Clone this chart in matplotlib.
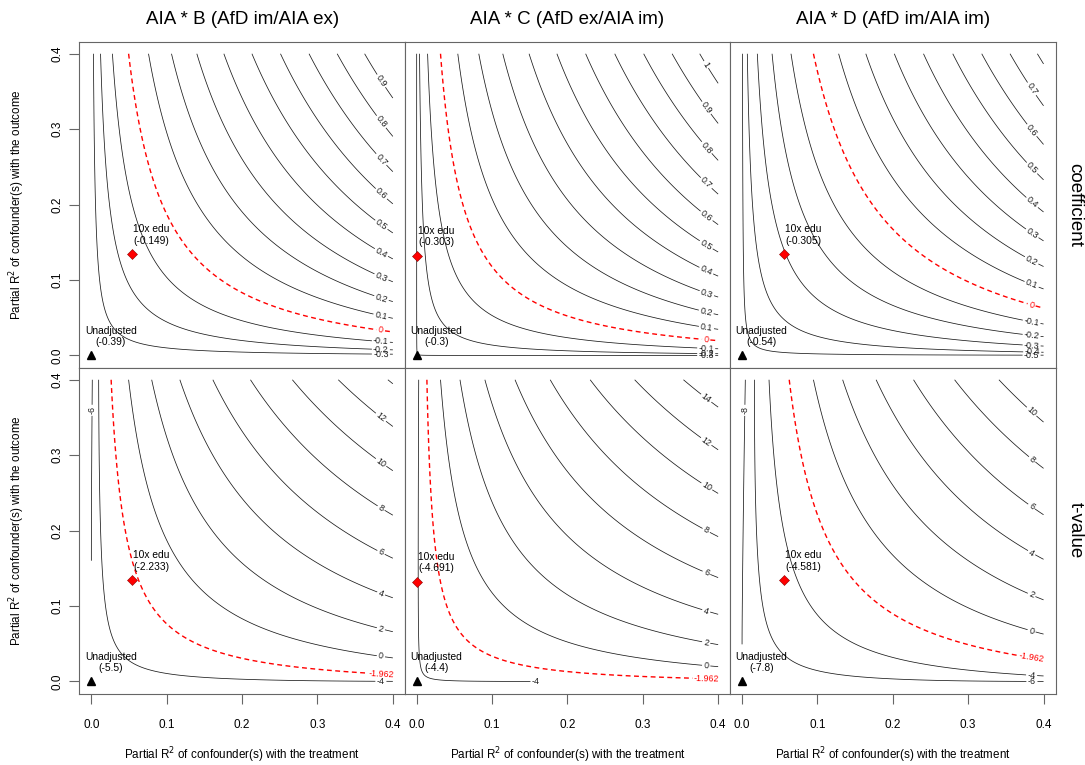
import numpy as np
import matplotlib.pyplot as plt

plt.rcParams['font.family'] = ['Liberation Sans', 'DejaVu Sans']

# models (columns)
models = ['AIA * B (AfD im/AIA ex)', 'AIA * C (AfD ex/AIA im)', 'AIA * D (AfD im/AIA im)']
estimates = [-0.39, -0.304, -0.54]
std_errors = [0.0709, 0.0697, 0.0692]
dofs = [1455, 1455, 1455]

# benchmark "10x edu"
bench_name = '10x edu'
bench_r2dz = [0.0537, 0.0004, 0.0555]
bench_r2yz = [0.1345, 0.132, 0.134]
bench_est_labels = ['-0.149', '-0.303', '-0.305']
bench_t_labels = ['-2.233', '-4.691', '-4.581']
unadj_est_labels = ['-0.39', '-0.3', '-0.54']
unadj_t_labels = ['-5.5', '-4.4', '-7.8']

coef_levels = [
    [-0.3, -0.2, -0.1, 0.1, 0.2, 0.3, 0.4, 0.5, 0.6, 0.7, 0.8, 0.9],
    [-0.3, -0.2, -0.1, 0.1, 0.2, 0.3, 0.4, 0.5, 0.6, 0.7, 0.8, 0.9, 1.0],
    [-0.5, -0.4, -0.3, -0.2, -0.1, 0.1, 0.2, 0.3, 0.4, 0.5, 0.6, 0.7, 0.8],
]
t_levels = [
    [-6, -4, 0, 2, 4, 6, 8, 10, 12, 14],
    [-4, 0, 2, 4, 6, 8, 10, 12, 14],
    [-8, -6, -4, 0, 2, 4, 6, 8, 10],
]
coef_threshold = 0
t_threshold = -1.962

row_names = ['coefficient', 't-value']
ticks = [0.0, 0.1, 0.2, 0.3, 0.4]
lim = 0.4


def fmt(v):
    return f'{v:g}'


def draw_level(ax, X, Y, Z, lev, color, lw, ls):
    cs = ax.contour(X, Y, Z, levels=[lev], colors=color, linewidths=lw, linestyles=ls)
    segs = [s for s in cs.allsegs[0] if len(s) > 1]
    if not segs:
        return
    pts = np.vstack(segs)
    length = sum(np.sum(np.hypot(*np.diff(s, axis=0).T)) for s in segs)
    # very short corner pieces stay unlabelled
    if length < 0.02:
        return
    inside = pts[pts[:, 0] <= 0.385]
    if len(inside) == 0:
        return
    p = inside[np.argmax(inside[:, 0])]
    if p[0] < 0.08:
        # nearly vertical line at the left: label near the top
        p = pts[np.argmin(np.abs(pts[:, 1] - 0.36))]
    ax.clabel(cs, manual=[tuple(p)], inline=True, inline_spacing=2,
              fontsize=6.4, fmt=fmt, colors=color)


fig = plt.figure(figsize=(10.85, 7.65), dpi=100)
W, H = 1085, 765
col_left = [79.3, 404.6, 730.0]
pw = 325.6
row_top = [41.7, 367.7]
ph = 325.8

g = lim * np.linspace(0, 1, 501) ** 2
rd, ry = np.meshgrid(g, g)

for j in range(3):
    est, se, dof = estimates[j], std_errors[j], dofs[j]
    bias = se * np.sqrt(dof) * np.sqrt(ry * rd / (1 - rd))
    adj_est = est + bias
    adj_se = se * np.sqrt((1 - ry) / (1 - rd)) * np.sqrt(dof / (dof - 1))
    adj_t = adj_est / adj_se
    surfaces = [adj_est, adj_t]
    levels = [coef_levels[j], t_levels[j]]
    thresholds = [coef_threshold, t_threshold]
    unadj = [unadj_est_labels[j], unadj_t_labels[j]]
    bench = [bench_est_labels[j], bench_t_labels[j]]

    for i in range(2):
        ax = fig.add_axes([col_left[j] / W, 1 - (row_top[i] + ph) / H, pw / W, ph / H])
        z = surfaces[i]
        for lev in levels[i]:
            draw_level(ax, rd, ry, z, lev, '#1a1a1a', 0.55, 'solid')
        draw_level(ax, rd, ry, z, thresholds[i], 'red', 1.0, [(0, (3.5, 2.5))])

        ax.plot(0, 0, marker='^', color='black', markersize=6, linestyle='none')
        ax.text(0 + 0.026, 0 + 0.025, 'Unadjusted\n(' + unadj[i] + ')',
                ha='center', va='center', fontsize=7.4, linespacing=1.2)
        ax.plot(bench_r2dz[j], bench_r2yz[j], marker='D', color='red',
                markeredgecolor='darkred', markeredgewidth=0.4, markersize=5.5,
                linestyle='none')
        ax.text(bench_r2dz[j] + 0.026, bench_r2yz[j] + 0.0255,
                bench_name + '\n(' + bench[i] + ')',
                ha='center', va='center', fontsize=7.4, linespacing=1.2)

        ax.set_xlim(-0.016, 0.416)
        ax.set_ylim(-0.016, 0.416)
        for s in ax.spines.values():
            s.set_color('#666666')
            s.set_linewidth(0.8)
        ax.tick_params(colors='#666666', labelcolor='black', length=7, width=0.8,
                       labelsize=8.5)
        ax.tick_params(axis='x', pad=11)
        ax.tick_params(axis='y', pad=4.5)
        ax.set_xticks(ticks)
        ax.set_yticks(ticks)
        if i == 1:
            ax.set_xticklabels([f'{t:.1f}' for t in ticks])
        else:
            ax.tick_params(axis='x', bottom=False, labelbottom=False)
        if j == 0:
            ax.set_yticklabels([f'{t:.1f}' for t in ticks], rotation=90, va='center')
        else:
            ax.tick_params(axis='y', left=False, labelleft=False)

    cx = (col_left[j] + pw / 2) / W
    fig.text(cx, 1 - 20 / H, models[j], ha='center', va='center', fontsize=13.5)
    fig.text(cx, 1 - 755 / H, 'Partial R$^2$ of confounder(s) with the treatment',
             ha='center', va='center', fontsize=8.4)

for i in range(2):
    cy = 1 - (row_top[i] + ph / 2) / H
    fig.text(17 / W, cy, 'Partial R$^2$ of confounder(s) with the outcome',
             ha='center', va='center', rotation=90, fontsize=8.4)
    fig.text(1075 / W, cy, row_names[i], ha='center', va='center',
             rotation=270, fontsize=13.5)

fig.savefig('out.png', dpi=100)
